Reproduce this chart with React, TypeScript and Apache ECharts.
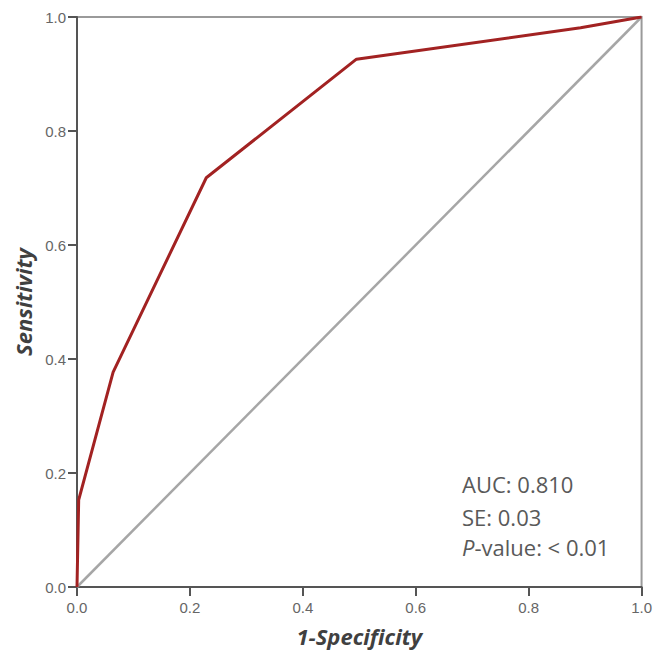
import React, { useEffect, useRef } from "react";
import * as echarts from "echarts";

const rocX = [0, 0.003, 0.064, 0.229, 0.495, 0.892, 1];
const rocY = [0, 0.153, 0.377, 0.718, 0.926, 0.981, 1];
const refX = [0, 1];
const refY = [0, 1];
const statLines = ["AUC: 0.810", "SE: 0.03", "< 0.01"];
const xTitle = "1-Specificity";
const yTitle = "Sensitivity";

export default function App() {
  const ref = useRef<HTMLDivElement>(null);
  useEffect(() => {
    if (!ref.current) return;
    const chart = echarts.init(ref.current, undefined, { renderer: "svg" });
    const axisCommon = {
      type: "value",
      min: 0,
      max: 1,
      interval: 0.2,
      axisLine: { show: true, lineStyle: { color: "#555", width: 2 } },
      axisTick: { show: true, length: 9, lineStyle: { color: "#555", width: 2 } },
      axisLabel: {
        color: "#666",
        fontSize: 15,
        fontFamily: "Liberation Sans",
        formatter: (v: number) => v.toFixed(1),
      },
      splitLine: { show: false },
      nameLocation: "middle",
      nameTextStyle: {
        color: "#404040",
        fontSize: 22,
        fontWeight: "bold",
        fontStyle: "italic",
        fontFamily: "Open Sans",
      },
    };
    chart.setOption({
      animation: false,
      backgroundColor: "#fff",
      grid: {
        left: 77,
        top: 17,
        right: 13,
        bottom: 67,
        show: true,
        borderColor: "#9a9a9a",
        borderWidth: 2,
      },
      xAxis: { ...axisCommon, name: xTitle, nameGap: 38, axisLabel: { ...axisCommon.axisLabel, margin: 13 } },
      yAxis: { ...axisCommon, name: yTitle, nameGap: 43, axisLabel: { ...axisCommon.axisLabel, margin: 11 } },
      series: [
        {
          type: "line",
          data: refX.map((x, i) => [x, refY[i]]),
          showSymbol: false,
          symbol: "none",
          lineStyle: { color: "#a6a6a6", width: 2.5 },
          z: 2,
        },
        {
          type: "line",
          data: rocX.map((x, i) => [x, rocY[i]]),
          showSymbol: false,
          symbol: "none",
          lineStyle: { color: "#a22222", width: 3 },
          z: 3,
        },
      ],
      graphic: [
        {
          type: "text",
          left: 462,
          top: 473,
          style: { text: statLines[0], fontSize: 22, fontFamily: "Open Sans", fill: "#595959" },
        },
        {
          type: "text",
          left: 462,
          top: 506,
          style: { text: statLines[1], fontSize: 22, fontFamily: "Open Sans", fill: "#595959" },
        },
        {
          type: "text",
          left: 462,
          top: 536,
          style: {
            text: "{i|P}{n|-value: " + statLines[2] + "}",
            rich: {
              i: { fontSize: 22, fontFamily: "Open Sans", fontStyle: "italic", fill: "#595959" },
              n: { fontSize: 22, fontFamily: "Open Sans", fill: "#595959" },
            },
          },
        },
      ],
    });
    return () => chart.dispose();
  }, []);
  return <div ref={ref} style={{ position: "absolute", left: 0, top: 0, width: 655, height: 654 }} />;
}
